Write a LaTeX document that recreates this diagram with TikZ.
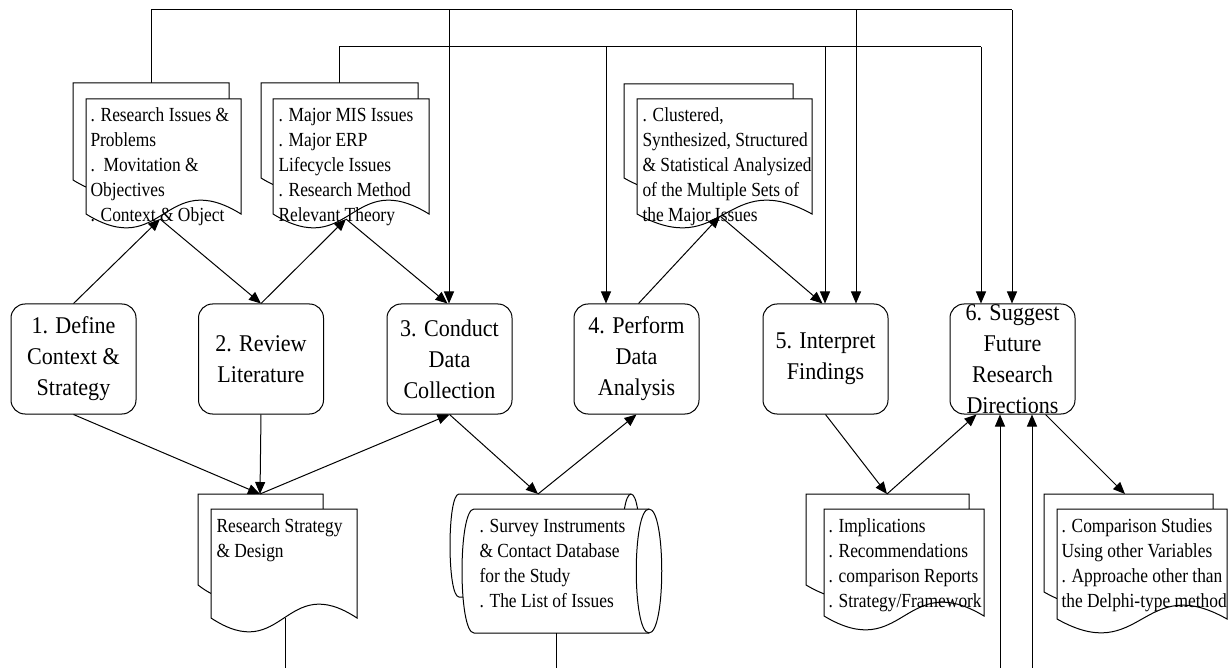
\documentclass[tikz,border=0pt]{standalone}
\usepackage{fontspec}
\setmainfont{Liberation Serif}
\newfontfamily\docfont[FakeStretch=0.87]{Liberation Serif}
\newfontfamily\boxfont[FakeStretch=0.92]{Liberation Serif}
\usetikzlibrary{arrows.meta}
% document shape: x0, top, x1, wave base
\newcommand\mydoc[4]{\filldraw[docline] (#1,#2) -- (#3,#2) -- (#3,#4) .. controls ({(#1+#3)/2},{#4-48}) and ({(#1+#3)/2},{#4+48}) .. (#1,#4) -- cycle;}
\begin{document}
\begin{tikzpicture}[x=1pt,y=-1pt,line width=1pt,
  docline/.style={draw=black,fill=white,line width=1pt},
  procbox/.style={draw=black,fill=white,rounded corners=14pt,minimum width=125pt,minimum height=110pt,inner sep=0pt,align=center,font=\boxfont\fontsize{24}{31}\selectfont},
  doctext/.style={anchor=north west,inner sep=0pt,align=left,font=\docfont\fontsize{20}{25}\selectfont},
  conn/.style={draw=black,line width=1pt},
  arr/.style={conn,-{Triangle[length=12pt,width=10pt]}}]
\useasboundingbox (0,0) rectangle (1229,668);

% ---------- top feedback lines ----------
\coordinate (dAtop) at (151,83);
\coordinate (dBtop) at (339,83);
\coordinate (L1) at (151,10);
\coordinate (R1) at (1012,10);
\coordinate (L2) at (339,47);
\coordinate (R2) at (981,47);
\coordinate (j13) at (449,10);
\coordinate (j15) at (856,10);
\coordinate (j24) at (606,47);
\coordinate (j25) at (825,47);

% ---------- process boxes ----------
\node[procbox] (b1) at (73.5,359) {1. Define\\Context \&\\Strategy};
\node[procbox] (b2) at (261,359) {2. Review\\Literature};
\node[procbox] (b3) at (449.5,359) {3. Conduct\\Data\\Collection};
\node[procbox] (b4) at (636.5,359) {4. Perform\\Data\\Analysis};
\node[procbox] (b5) at (825.5,359) {5. Interpret\\Findings};
\node[procbox] (b6) at (1012.5,359) {6. Suggest\\Future\\Research\\Directions};

\draw[conn] (dAtop) -- (L1) -- (R1);
\draw[arr] (R1) -- (R1 |- b6.north);
\draw[arr] (j13) -- (j13 |- b3.north);
\draw[arr] (j15) -- (j15 |- b5.north);
\draw[conn] (dBtop) -- (L2) -- (R2);
\draw[arr] (R2) -- (R2 |- b6.north);
\draw[arr] (j24) -- (j24 |- b4.north);
\draw[arr] (j25) -- (j25 |- b5.north);

% ---------- documents (top) ----------
\mydoc{73}{83}{229}{180}
\mydoc{86}{99}{241}{214}
\node[doctext] (tA) at (90,107) {\rule{0pt}{14pt}. Research Issues \&\\Problems\\.\ \ Movitation \&\\Objectives\\. Context \& Object};

\mydoc{261}{83}{418}{178}
\mydoc{273}{99}{429}{214}
\node[doctext] (tB) at (278,107) {\rule{0pt}{14pt}. Major MIS Issues\\. Major ERP\\Lifecycle Issues\\. Research Method\\Relevant Theory};

\mydoc{624}{84}{793}{178}
\mydoc{637}{99}{812}{214}
\node[doctext] (tC) at (642,107) {\rule{0pt}{14pt}. Clustered,\\Synthesized, Structured\\\& Statistical Analysized\\of the Multiple Sets of\\the Major Issues};

% ---------- documents (bottom) ----------
\mydoc{198}{494}{323}{585}
\mydoc{211}{509}{357}{618}
\node[doctext] (tD) at (216,518) {\rule{0pt}{14pt}Research Strategy\\\& Design};

% drum (stored data) shape
\filldraw[docline] (459,494) -- (631,494) .. controls (643,494) and (643,597) .. (631,597) -- (459,597) .. controls (447,597) and (447,494) .. (459,494) -- cycle;
\draw[conn] (631,494) .. controls (619,494) and (619,597) .. (631,597);
\filldraw[docline] (474,509) -- (649,509) .. controls (666,509) and (666,633) .. (649,633) -- (474,633) .. controls (458,633) and (458,509) .. (474,509) -- cycle;
\draw[conn] (649,509) .. controls (632,509) and (632,633) .. (649,633);
\node[doctext] (tE) at (479,518) {\rule{0pt}{14pt}. Survey Instruments\\\& Contact Database\\for the Study\\. The List of Issues};

\mydoc{806}{494}{969}{585}
\mydoc{824}{509}{984}{616}
\node[doctext] (tF) at (828,518) {\rule{0pt}{14pt}. Implications\\. Recommendations\\. comparison Reports\\. Strategy/Framework};

\mydoc{1044}{494}{1213}{592}
\mydoc{1057}{509}{1227}{619}
\node[doctext] (tG) at (1061,518) {\rule{0pt}{14pt}. Comparison Studies\\Using other Variables\\. Approache other than\\the Delphi-type method};

% ---------- connection points on documents ----------
\coordinate (dAin) at (160,219);
\coordinate (dBin) at (346,219);
\coordinate (dCin) at (720,216);
\coordinate (dDin) at (260,494);
\coordinate (dEin) at (538,494);
\coordinate (dFin) at (887,494);
\coordinate (dGin) at (1125,494);
\coordinate (dDout) at (285,618);
\coordinate (dEout) at (556,633);
\coordinate (eD) at (285,668);
\coordinate (eE) at (556,668);
\coordinate (u1) at (1000,668);
\coordinate (u2) at (1032,668);

% ---------- upper connectors ----------
\draw[arr] (b1.north) -- (dAin);
\draw[arr] (dAin) -- (b2.north);
\draw[arr] (b2.north) -- (dBin);
\draw[arr] (dBin) -- ([xshift=-2pt]b3.north);
\draw[arr] ([xshift=2pt]b4.north) -- (dCin);
\draw[arr] (dCin) -- ([xshift=-3pt]b5.north);

% ---------- lower connectors ----------
\draw[arr] (b1.south) -- (dDin);
\draw[arr] (b2.south) -- (dDin);
\draw[arr] (dDin) -- (b3.south);
\draw[arr] (b3.south) -- (dEin);
\draw[arr] (dEin) -- (b4.south);
\draw[arr] (b5.south) -- (dFin);
\draw[arr] (dFin) -- ([xshift=-36pt]b6.south);
\draw[arr] ([xshift=33pt]b6.south) -- (dGin);
\draw[arr] (u1) -- (u1 |- b6.south);
\draw[arr] (u2) -- (u2 |- b6.south);
\draw[conn] (dDout) -- (eD);
\draw[conn] (dEout) -- (eE);
\end{tikzpicture}
\end{document}
